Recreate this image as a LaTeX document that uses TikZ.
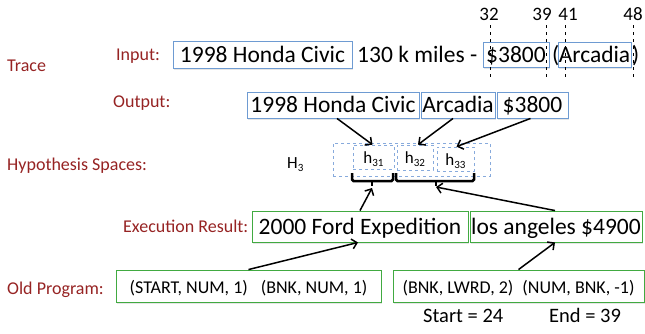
\documentclass[tikz,border=0pt]{standalone}
\usepackage{fontspec}
\setmainfont{Carlito}
\usetikzlibrary{arrows.meta,shadows}
\definecolor{lblred}{RGB}{150,35,35}
\definecolor{boxblue}{RGB}{110,155,210}
\definecolor{boxgreen}{RGB}{65,170,65}
\definecolor{hypblue}{RGB}{135,170,220}
\newcommand{\bigtxt}{\fontsize{23.5}{28}\selectfont}
\newcommand{\lbltxt}{\fontsize{18}{21}\selectfont}
\newcommand{\hsub}[2]{#1\raisebox{-3pt}{\fontsize{11}{12}\selectfont #2}}
\tikzset{
  lbl/.style = {anchor = base west, inner sep = 0, text = lblred, font = \lbltxt},
  plain/.style = {anchor = base west, inner sep = 0, font = \bigtxt},
  idxnum/.style = {anchor = base, inner sep = 0, font = \fontsize{19}{22}\selectfont},
  bluebox/.style = {draw = boxblue, fill = white, line width = 0.9pt, inner sep = 0, font = \bigtxt,
    text height = 17pt, text depth = 2pt,
    drop shadow = {opacity = 0.2, shadow xshift = 1pt, shadow yshift = -1.5pt}},
  greenbox/.style = {bluebox, draw = boxgreen},
  progbox/.style = {greenbox, font = \lbltxt, text height = 14pt, text depth = 0pt},
  hbox/.style = {draw = hypblue, dashed, line width = 0.7pt, inner sep = 0,
    font = \fontsize{17}{20}\selectfont, text height = 12pt, text depth = 0pt},
  arr/.style = {-{Straight Barb[length = 5pt, width = 10pt]}, line width = 1.5pt},
  idx/.style = {dash pattern = on 3pt off 4pt, line width = 0.8pt},
  brc/.style = {line width = 2.5pt, rounded corners = 1.5pt}
}
\begin{document}
\begin{tikzpicture}[x = 1pt, y = -1pt]
\useasboundingbox (0,0) rectangle (645,333);
\node[lbl] at (7,71) (trace) {Trace};
\node[lbl] at (116,60) (inlbl) {Input:};
\node[bluebox, minimum width = 179pt, minimum height = 27pt] at (262.5,54.5) (in1) {1998 Honda Civic};
\node[plain] at (357,62) (in2) {130 k miles -};
\node[bluebox, minimum width = 66pt, minimum height = 25pt] at (516,54.5) (in3) {\$3800};
\node[plain] at (552,62) (lp) {(};
\node[bluebox, minimum width = 73pt, minimum height = 25pt] at (594.5,54.5) (in4) {Arcadia};
\node[plain] at (632,62) (rp) {)};
\node[idxnum] at (489,20) (n32) {32};
\node[idxnum] at (542,20) (n39) {39};
\node[idxnum] at (568,20) (n41) {41};
\node[idxnum] at (633,20) (n48) {48};
\node[lbl] at (113,107) (outlbl) {Output:};
\node[bluebox, minimum width = 172pt, minimum height = 26pt] at (333,105) (out1) {1998 Honda Civic};
\node[bluebox, minimum width = 74pt, minimum height = 26pt] at (458,105) (out2) {Arcadia};
\node[bluebox, minimum width = 71pt, minimum height = 26pt] at (532.5,105) (out3) {\$3800};
\node[lbl] at (7,170) (hyplbl) {Hypothesis Spaces:};
\node[anchor = base west, inner sep = 0, font = \fontsize{17}{20}\selectfont] at (287,168) (H3) {\hsub{H}{3}};
\node[hbox, minimum width = 157pt, minimum height = 33pt] at (411.5,159.5) (hs) {};
\node[hbox, minimum width = 41pt, minimum height = 24pt] at (373.5,157) (h31) {\hsub{h}{31}};
\node[hbox, minimum width = 36pt, minimum height = 25pt] at (415,157.5) (h32) {\hsub{h}{32}};
\node[hbox, minimum width = 37pt, minimum height = 24pt] at (455.5,159) (h33) {\hsub{h}{33}};
\draw[brc] (352,173) |- (393,181) -- (393,173);
\draw[brc] (372,181) -- (372,186);
\draw[brc] (396,173) |- (474,181) -- (474,173);
\draw[brc] (436,181) -- (436,186);
\coordinate (b1) at (372,188);
\coordinate (b2) at (436,187);
\node[lbl] at (123,232) (exlbl) {Execution Result:};
\node[greenbox, minimum width = 216pt, minimum height = 31pt] at (360,226.5) (ex1) {2000 Ford Expedition};
\node[greenbox, minimum width = 172pt, minimum height = 31pt] at (556,226.5) (ex2) {los angeles \$4900};
\node[lbl] at (7,294) (oldlbl) {Old Program:};
\node[progbox, minimum width = 265pt, minimum height = 32pt] at (248.5,286) (pg1) {(START, NUM, 1)\hspace{13pt}(BNK, NUM, 1)\hspace{14pt}};
\node[progbox, minimum width = 251pt, minimum height = 32pt] at (518.5,286) (pg2) {(BNK, LWRD, 2)\hspace{9pt}(NUM, BNK, -1)\hspace{7pt}};
\node[anchor = base west, inner sep = 0, font = \fontsize{20.5}{24}\selectfont] at (423,322) (st) {Start = 24};
\node[anchor = base west, inner sep = 0, font = \fontsize{20.5}{24}\selectfont] at (549,322) (en) {End = 39};
\draw[arr] ([xshift = 4pt]out1.south) -- ([xshift = -1pt]h31.north);
\draw[arr] ([xshift = -5pt]out2.south) -- ([xshift = 3pt]h32.north);
\draw[arr] ([xshift = -2pt]out3.south) -- ([xshift = 1pt]h33.north);
\draw[arr] (ex1.north) -- (b1);
\draw[arr] ([xshift = -1pt]ex2.north) -- (b2);
\draw[arr] (pg1.north) -- ([xshift = -2pt]ex1.south);
\draw[arr] (pg2.north) -- ([xshift = -1pt]ex2.south);
\foreach \x in {490,546,565,633}
  \draw[idx] (\x,25) -- (\x,80);
\end{tikzpicture}
\end{document}
